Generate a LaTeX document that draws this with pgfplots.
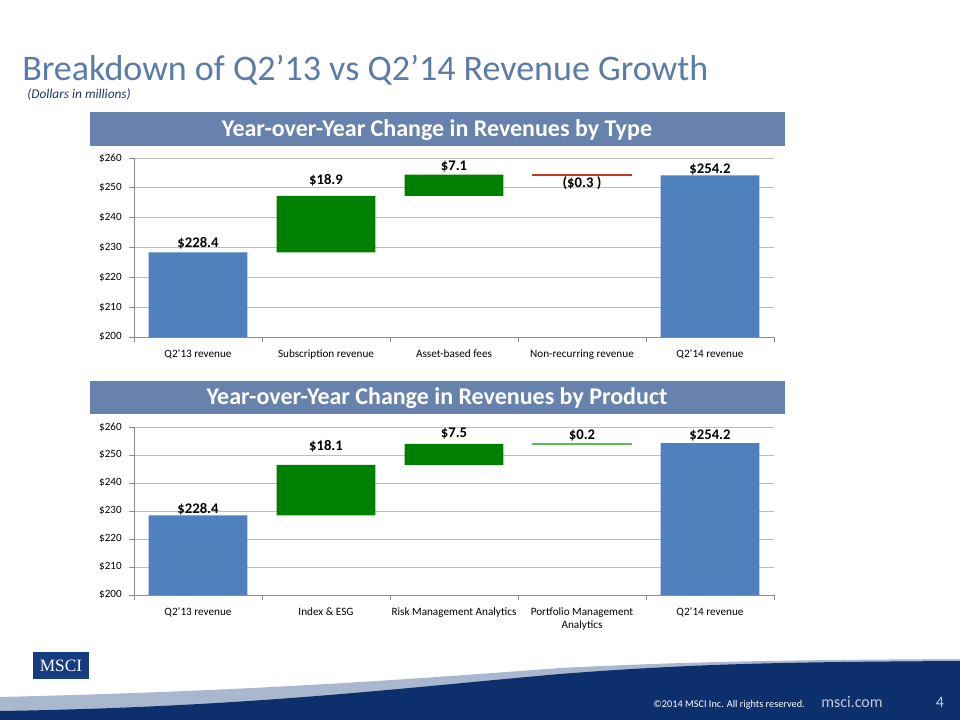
\documentclass[border=0pt]{standalone}
\usepackage{pgfplots}
\pgfplotsset{compat=1.18}
\usepackage{fontspec}
\setmainfont{Carlito}
\newfontfamily\logofont{Liberation Serif}
\definecolor{titleblue}{HTML}{5B7BA8}
\definecolor{subnavy}{HTML}{1F3864}
\definecolor{banner}{HTML}{6882AE}
\definecolor{barblue}{HTML}{4F81BD}
\definecolor{bargreen}{HTML}{008000}
\definecolor{navy}{HTML}{0D2F6C}
\definecolor{lightband}{HTML}{AAB8CF}
\definecolor{negred}{HTML}{C0392B}
\definecolor{pmagreen}{HTML}{5DB85C}
\definecolor{logonavy}{HTML}{163C80}
\definecolor{gridgray}{HTML}{BEBEBE}
\definecolor{axisgray}{HTML}{8C8C8C}
\definecolor{foottext}{HTML}{BFC9E2}

\tikzset{lbl/.style={font=\bfseries\fontsize{11}{12}\selectfont}}
\pgfplotsset{
  wf/.style={
    scale only axis, width=480pt,
    xmin=-0.5, xmax=4.5, ymin=200, ymax=260,
    ybar stacked, bar width=0.77,
    axis lines*=left,
    axis line style={axisgray, line width=0.6pt},
    ymajorgrids, grid style={gridgray, line width=0.6pt},
    ytick={200,210,220,230,240,250,260},
    yticklabels={\$200,\$210,\$220,\$230,\$240,\$250,\$260},
    xtick={-0.5,0.5,1.5,2.5,3.5,4.5},
    x tick label as interval,
    tick align=outside, major tick length=3.75pt,
    tick style={axisgray, line width=0.6pt},
    ticklabel style={font=\fontsize{8.3}{9.5}\selectfont, text=black},
    yticklabel style={xshift=-2pt},
    xticklabel style={align=center, yshift=-2.5pt, font=\fontsize{8.4}{9.5}\selectfont},
  },
}

\begin{document}
\begin{tikzpicture}[x=0.75pt,y=-0.75pt]
\fill[white] (0,0) rectangle (960,720);

% title
\node[anchor=base west, inner sep=0, text depth=0pt, text=titleblue, font=\fontsize{27}{30}\selectfont] at (22,81) {Breakdown of Q2’13 vs Q2’14 Revenue Growth};
\node[anchor=base west, inner sep=0, text=subnavy, font=\itshape\fontsize{10}{12}\selectfont] at (27,98.5) {(Dollars in millions)};

% banners
\fill[banner] (90,112) rectangle (785,146);
\node[text=white, font=\bfseries\fontsize{18}{21}\selectfont] at (437,130) {Year-over-Year Change in Revenues by Type};
\fill[banner] (90,381) rectangle (785,414);
\node[text=white, font=\bfseries\fontsize{18}{21}\selectfont] at (437,398) {Year-over-Year Change in Revenues by Product};

% chart 1
\begin{axis}[wf, at={(100.5pt,-252.75pt)}, anchor=south west, height=134.25pt,
  xticklabels={Q2'13 revenue, Subscription revenue, Asset-based fees, Non-recurring revenue, Q2'14 revenue}]
\addplot[draw=none, fill=none] coordinates {(0,0) (1,228.4) (2,247.3) (3,254.1) (4,0)};
\addplot[draw=none, fill=barblue] coordinates {(0,228.4) (1,0) (2,0) (3,0) (4,254.2)};
\addplot[draw=none, fill=bargreen] coordinates {(0,0) (1,18.9) (2,7.1) (3,0) (4,0)};
\addplot[draw=negred, line width=0.5pt, fill=negred] coordinates {(0,0) (1,0) (2,0) (3,0.3) (4,0)};
\node[lbl] at (axis cs:0,231.5) {\$228.4};
\node[lbl] at (axis cs:1,252.6) {\$18.9};
\node[lbl] at (axis cs:2,257.0) {\$7.1};
\node[lbl] at (axis cs:3,251.6) {(\$0.3 )};
\node[lbl] at (axis cs:4,256.3) {\$254.2};
\end{axis}

% chart 2
\begin{axis}[wf, at={(100.5pt,-446.25pt)}, anchor=south west, height=126pt,
  xticklabels={Q2'13 revenue, Index \& ESG, Risk Management Analytics, Portfolio Management\\Analytics, Q2'14 revenue}]
\addplot[draw=none, fill=none] coordinates {(0,0) (1,228.4) (2,246.5) (3,254.0) (4,0)};
\addplot[draw=none, fill=barblue] coordinates {(0,228.4) (1,0) (2,0) (3,0) (4,254.2)};
\addplot[draw=none, fill=bargreen] coordinates {(0,0) (1,18.1) (2,7.5) (3,0) (4,0)};
\addplot[draw=pmagreen, line width=1.1pt, fill=pmagreen] coordinates {(0,0) (1,0) (2,0) (3,0.2) (4,0)};
\node[lbl] at (axis cs:0,230.7) {\$228.4};
\node[lbl] at (axis cs:1,253.2) {\$18.1};
\node[lbl] at (axis cs:2,257.5) {\$7.5};
\node[lbl] at (axis cs:3,256.8) {\$0.2};
\node[lbl] at (axis cs:4,256.8) {\$254.2};
\end{axis}

% footer swoosh
\fill[lightband] (0,697) .. controls (250,691) and (400,680) .. (560,668) .. controls (700,661) and (800,660) .. (960,659) -- (960,720) -- (0,720) -- cycle;
\fill[navy] (0,711) .. controls (250,707) and (400,688) .. (560,674) .. controls (700,663) and (800,662) .. (960,661) -- (960,720) -- (0,720) -- cycle;

% logo
\fill[logonavy] (33,652) rectangle (89,679);
\node[text=white, font=\logofont\fontsize{13}{14}\selectfont] at (61,666) {MSCI};

% footer texts
\node[anchor=base east, inner sep=0, text=white, font=\fontsize{7.7}{9}\selectfont] at (805,707) {©2014 MSCI Inc. All rights reserved.};
\node[anchor=base west, inner sep=0, text=foottext, font=\fontsize{12}{14}\selectfont] at (821,707) {msci.com};
\node[anchor=base, inner sep=0, text=foottext, font=\fontsize{12}{14}\selectfont] at (940,707) {4};
\end{tikzpicture}
\end{document}
